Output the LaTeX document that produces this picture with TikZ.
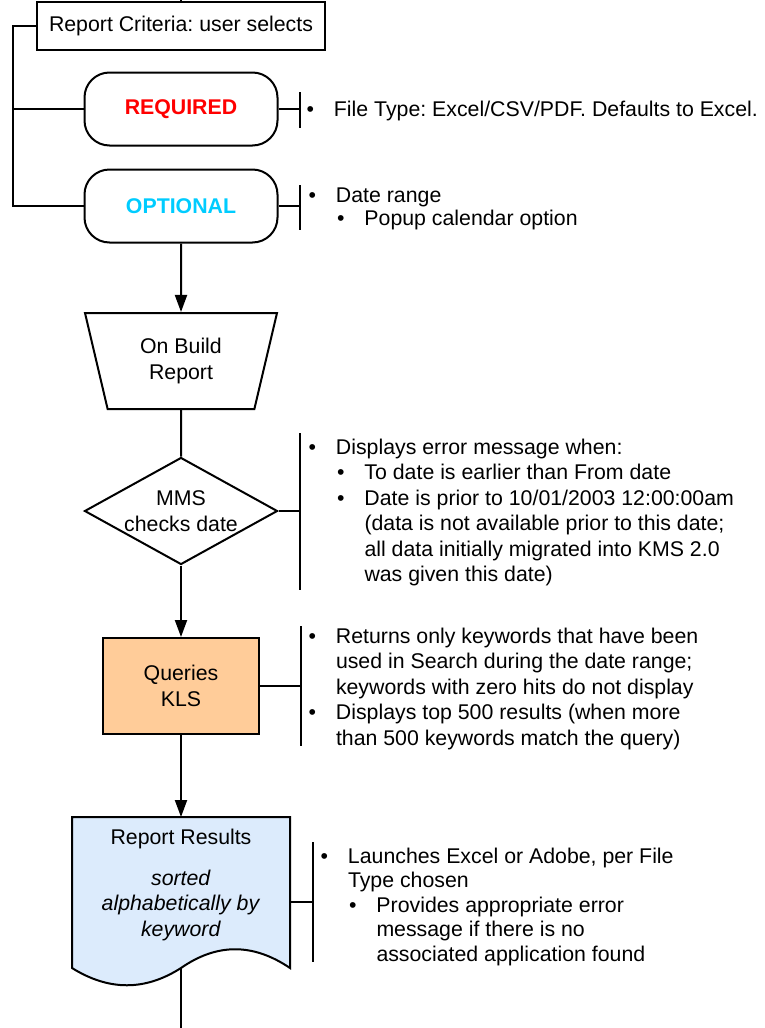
\documentclass[tikz,border=0pt]{standalone}
\usepackage{fontspec}
\setmainfont{Liberation Sans}
\frenchspacing
\usetikzlibrary{shapes.geometric,arrows.meta}
\definecolor{reqred}{RGB}{255,0,0}
\definecolor{optcyan}{RGB}{0,204,255}
\definecolor{klsorange}{RGB}{255,204,153}
\definecolor{resblue}{RGB}{220,235,252}
\newcommand{\flowfont}{\fontsize{21.3}{25.4}\selectfont}
\newcommand{\bul}{\llap{\textbullet\hspace{20pt}}}
\newcommand{\subin}{\hspace*{28.5pt}}
\tikzset{
  flowbox/.style={draw, rectangle, inner sep=0pt, align=center},
  choice/.style={draw, rectangle, rounded corners=25pt, minimum width=193pt, minimum height=73pt, font=\flowfont\bfseries},
  notes/.style={anchor=north west, inner sep=0pt, align=left},
}
\begin{document}
\begin{tikzpicture}[x=1pt, y=-1pt, line width=2pt, >={Triangle[length=17pt,width=12pt]}, every node/.style={font=\flowfont}]
\useasboundingbox (0,0) rectangle (765,1028);

\node[flowbox, minimum width=288pt, minimum height=48pt] (crit) at (181,26) {Report Criteria: user selects};
\node[choice, text=reqred] (req) at (181,109) {REQUIRED};
\node[choice, text=optcyan] (opt) at (181,206) {OPTIONAL};
\node[draw, trapezium, trapezium angle=63.43, trapezium stretches body, shape border rotate=180, minimum width=192pt, minimum height=96pt, inner sep=0pt, align=center] (build) at (181,361) {On Build\\Report};
\node[draw, diamond, minimum width=193pt, minimum height=107pt, inner sep=0pt] (mms) at (181,511) {};
\node[align=center] (mmstext) at (mms.center) {MMS\\checks date};
\node[flowbox, fill=klsorange, minimum width=156pt, minimum height=96pt] (kls) at (181,686) {Queries\\KLS};
\node[minimum width=216pt, minimum height=149pt, inner sep=0pt] (res) at (181,892.5) {};

% report page with wavy bottom
\draw[fill=resblue] (res.south west) -- (res.north west) -- (res.north east) -- (res.south east)
  .. controls (253,943) and (217,943) .. (res.south)
  .. controls (145,991) and (109,991) .. (res.south west) -- cycle;
\node[align=center] (restext) at (181,885) {Report Results\\[15pt]\textit{sorted}\\\textit{alphabetically by}\\\textit{keyword}};

\coordinate (top) at (181,0);
\coordinate (rail) at (13,26);
\coordinate (end) at (181,1028);
\draw (top) -- (crit.north);
\draw (crit.west) -- (rail) |- (opt.west);
\draw (req.west) -- (req.west -| rail);
\draw [->] (opt.south) -- (build.north);
\draw (build.south) -- (mms.north);
\draw [->] (mms.south) -- (kls.north);
\draw [->] (kls.south) -- (res.north);
\draw (res.south) -- (end);

% side notes
\coordinate (reqtie) at (300,109);
\coordinate (opttie) at (300,206);
\coordinate (mmstie) at (300,511);
\coordinate (klstie) at (301,686);
\coordinate (restie) at (313,902);
\draw (req.east) -- (reqtie);
\draw (opt.east) -- (opttie);
\draw (mms.east) -- (mmstie);
\draw (kls.east) -- (klstie);
\draw (restie -| res.east) -- (restie);
\draw (300,92) -- (300,128);
\draw (300,185) -- (300,230);
\draw (300,433) -- (300,590);
\draw (301,626) -- (301,746);
\draw (313,842) -- (313,962);

\node[notes] (reqnote) at (333,100) {\bul File Type: Excel/CSV/PDF. Defaults to Excel.};
\node[notes] (optnote) at (335,187) {\bul Date range\\[-3pt]
  \subin\bul Popup calendar option};
\node[notes] (mmsnote) at (335,438) {\bul Displays error message when:\\
  \subin\bul To date is earlier than From date\\
  \subin\bul Date is prior to 10/01/2003 12:00:00am\\
  \subin(data is not available prior to this date;\\
  \subin all data initially migrated into KMS 2.0\\
  \subin was given this date)};
\node[notes] (klsnote) at (335,627) {\bul Returns only keywords that have been\\
  used in Search during the date range;\\
  keywords with zero hits do not display\\
  \bul Displays top 500 results (when more\\
  than 500 keywords match the query)};
\node[notes] (resnote) at (347,847) {\bul Launches Excel or Adobe, per File\\[-1pt]
  Type chosen\\[-1pt]
  \subin\bul Provides appropriate error\\[-1pt]
  \subin message if there is no\\[-1pt]
  \subin associated application found};
\end{tikzpicture}
\end{document}
